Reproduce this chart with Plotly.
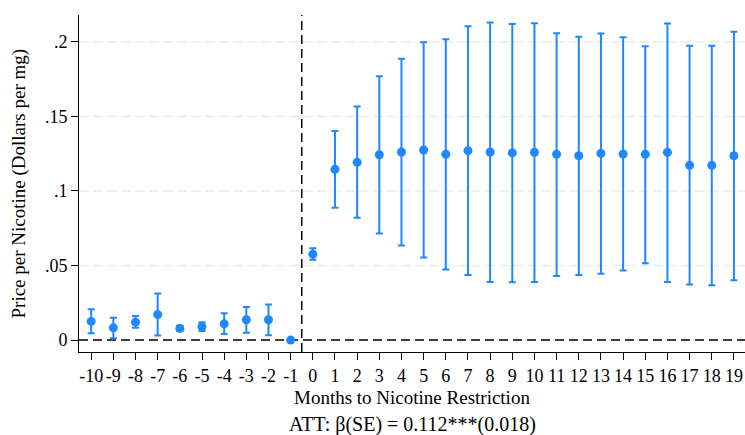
import plotly.graph_objects as go

# Event-study estimates: months relative to the nicotine restriction
months = list(range(-10, 20))
estimate = [0.0125, 0.0082, 0.0120, 0.0171, 0.0078, 0.0089, 0.0109, 0.0136, 0.0136, 0.0,
            0.0576, 0.1145, 0.1192, 0.1243, 0.1261, 0.1275, 0.1246, 0.1270, 0.1261, 0.1255,
            0.1259, 0.1246, 0.1236, 0.1252, 0.1248, 0.1246, 0.1259, 0.1172, 0.1172, 0.1236]
ci_lower = [0.0045, 0.0013, 0.0082, 0.0031, 0.0060, 0.0060, 0.0040, 0.0049, 0.0033, 0.0,
            0.0538, 0.0888, 0.0821, 0.0714, 0.0634, 0.0553, 0.0473, 0.0437, 0.0390, 0.0388,
            0.0390, 0.0429, 0.0437, 0.0444, 0.0466, 0.0516, 0.0390, 0.0372, 0.0368, 0.0402]
ci_upper = [0.0207, 0.0149, 0.0162, 0.0313, 0.0096, 0.0120, 0.0180, 0.0222, 0.0238, 0.0,
            0.0616, 0.1402, 0.1567, 0.1770, 0.1886, 0.1998, 0.2018, 0.2105, 0.2130, 0.2119,
            0.2125, 0.2058, 0.2034, 0.2056, 0.2031, 0.1971, 0.2123, 0.1973, 0.1973, 0.2067]

y_tickvals = [0, 0.05, 0.1, 0.15, 0.2]
y_ticktext = ["0", ".05", ".1", ".15", ".2"]

x_title = "Months to Nicotine Restriction"
att_note = "ATT: β(SE) = 0.112***(0.018)"
y_title = "Price per Nicotine (Dollars per mg)"

BLUE = "#1f88ff"
FONT = "Liberation Serif"

err_plus = [u - e for u, e in zip(ci_upper, estimate)]
err_minus = [e - l for e, l in zip(estimate, ci_lower)]

fig = go.Figure()

# light dashed gridlines at the non-zero y ticks
for v in y_tickvals[1:]:
    fig.add_hline(y=v, line=dict(color="#ececec", width=1.5, dash="10px,4px"), layer="below")

# reference lines: zero effect and treatment onset
fig.add_hline(y=0, line=dict(color="black", width=1.5, dash="9px,5px"), layer="below")
fig.add_vline(x=-0.5, line=dict(color="black", width=1.5, dash="9px,5px"), layer="below")

fig.add_trace(go.Scatter(
    x=months, y=estimate, mode="markers",
    marker=dict(color=BLUE, size=9),
    error_y=dict(type="data", symmetric=False, array=err_plus, arrayminus=err_minus,
                 color=BLUE, thickness=2, width=3.5),
    showlegend=False,
))

fig.update_layout(
    width=745, height=435,
    margin=dict(l=79, r=0, t=15, b=83),
    plot_bgcolor="white", paper_bgcolor="white",
    font=dict(family=FONT, size=18, color="black"),
)

fig.update_xaxes(
    range=[-10.55, 19.5], tickmode="array", tickvals=months,
    ticktext=[str(m) for m in months],
    showline=True, linecolor="black", linewidth=1,
    ticks="outside", ticklen=7, tickcolor="black", tickwidth=1,
    showgrid=False, zeroline=False,
    tickfont=dict(family=FONT, size=18),
)
fig.update_yaxes(
    range=[-0.008, 0.218], tickmode="array", tickvals=y_tickvals, ticktext=y_ticktext,
    showline=True, linecolor="black", linewidth=1,
    ticks="outside", ticklen=7, tickcolor="black", tickwidth=1,
    showgrid=False, zeroline=False,
    tickfont=dict(family=FONT, size=18),
)

fig.add_annotation(text=x_title, xref="paper", yref="paper", x=0.5, y=0,
                   yshift=-45, xanchor="center", yanchor="middle", showarrow=False,
                   font=dict(family=FONT, size=19))
fig.add_annotation(text=att_note, xref="paper", yref="paper", x=0.5, y=0,
                   yshift=-72, xanchor="center", yanchor="middle", showarrow=False,
                   font=dict(family=FONT, size=20))
fig.add_annotation(text=y_title, xref="paper", yref="paper", x=0, y=0.5,
                   xshift=-61, xanchor="center", yanchor="middle", textangle=-90,
                   showarrow=False, font=dict(family=FONT, size=19))

fig.write_html("out.html")
